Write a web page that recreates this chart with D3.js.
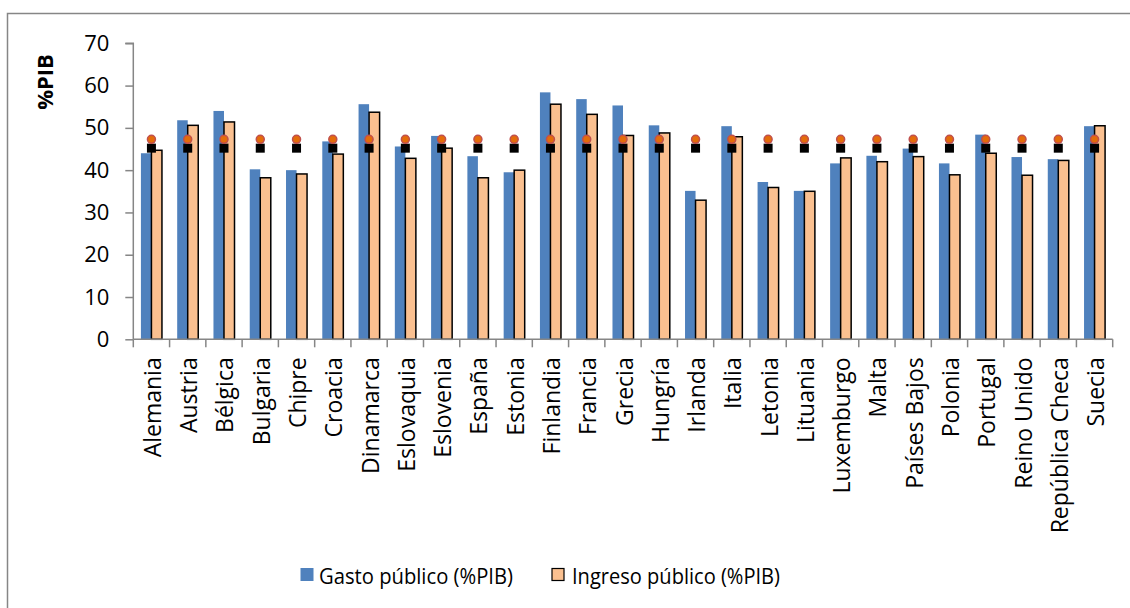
<!DOCTYPE html>
<html>
<head>
<meta charset="utf-8">
<script src="https://cdn.jsdelivr.net/npm/d3@7"></script>
<style>
  html, body { margin: 0; padding: 0; background: #fff; }
  svg { display: block; }
  text { font-family: "Open Sans", "DejaVu Sans", sans-serif; fill: #000; }
</style>
</head>
<body>
<svg id="chart" width="1130" height="608"></svg>
<script>
const categories = ["Alemania","Austria","Bélgica","Bulgaria","Chipre","Croacia","Dinamarca","Eslovaquia","Eslovenia","España","Estonia","Finlandia","Francia","Grecia","Hungría","Irlanda","Italia","Letonia","Lituania","Luxemburgo","Malta","Países Bajos","Polonia","Portugal","Reino Unido","República Checa","Suecia"];
const gasto   = [44.0,51.8,54.0,40.2,40.0,46.8,55.6,45.6,48.1,43.3,39.5,58.4,56.8,55.3,50.6,35.1,50.4,37.2,35.1,41.6,43.4,45.1,41.6,48.4,43.1,42.6,50.4];
const ingreso = [44.7,50.6,51.4,38.2,39.1,43.8,53.7,42.8,45.2,38.2,40.0,55.6,53.2,48.2,48.8,32.9,47.9,35.9,35.0,42.9,42.0,43.2,38.9,44.0,38.8,42.3,50.5];
const gastoUE   = categories.map(() => 47.3);
const ingresoUE = categories.map(() => 45.2);
const seriesNames = ["Gasto público (%PIB)", "Ingreso público (%PIB)"];
const yTicks = [0,10,20,30,40,50,60,70];

const svg = d3.select("#chart");
const pL = 133.3, pR = 1112.7, pT = 43.3, pB = 339.3;

// outer border
svg.append("rect").attr("x", 7.5).attr("y", 13.5).attr("width", 1200).attr("height", 700)
  .attr("fill", "#fff").attr("stroke", "#868686").attr("stroke-width", 1.5);

const x = d3.scaleBand().domain(categories).range([pL, pR]).padding(0);
const y = d3.scaleLinear().domain([0, 70]).range([pB, pT]);
const bw = x.bandwidth();
const xs = d3.scaleBand().domain([0, 1]).range([0.21 * bw, 0.79 * bw]).padding(0);

// bars
const g = svg.append("g");
g.selectAll(".gasto").data(categories).join("rect")
  .attr("x", d => x(d) + xs(0))
  .attr("width", xs.bandwidth())
  .attr("y", (d, i) => y(gasto[i]))
  .attr("height", (d, i) => y(0) - y(gasto[i]))
  .attr("fill", "#4F81BD");
g.selectAll(".ingreso").data(categories).join("rect")
  .attr("x", d => x(d) + xs(1))
  .attr("width", xs.bandwidth())
  .attr("y", (d, i) => y(ingreso[i]))
  .attr("height", (d, i) => y(0) - y(ingreso[i]))
  .attr("fill", "#FAC090").attr("stroke", "#000").attr("stroke-width", 1.5);

// y axis
const yAxis = d3.axisLeft(y).tickValues(yTicks).tickSize(8).tickPadding(16).tickFormat(d3.format("d"));
const ya = svg.append("g").attr("transform", `translate(${pL},0)`).call(yAxis);
ya.select(".domain").attr("stroke", "#868686").attr("stroke-width", 1.5).attr("d", `M-8,${pT}H0V${pB}`);
ya.selectAll(".tick line").attr("stroke", "#868686").attr("stroke-width", 1.5);
ya.selectAll(".tick text").attr("font-size", 22).attr("font-family", "'Open Sans', sans-serif").attr("fill", "#000");

// x axis
const xa = svg.append("g").attr("transform", `translate(0,${pB})`);
xa.append("line").attr("x1", pL).attr("x2", pR).attr("y1", 0).attr("y2", 0)
  .attr("stroke", "#868686").attr("stroke-width", 1.5);
const bounds = categories.map(c => x(c)).concat([x(categories[categories.length - 1]) + bw]);
xa.selectAll(".xt").data(bounds).join("line")
  .attr("x1", d => d).attr("x2", d => d).attr("y1", 0).attr("y2", 8)
  .attr("stroke", "#868686").attr("stroke-width", 1.5);
xa.selectAll(".xl").data(categories).join("text")
  .attr("transform", d => `translate(${x(d) + bw / 2 + 9.5},18) rotate(-90)`)
  .attr("text-anchor", "end")
  .attr("font-size", 23)
  .text(d => d);

// markers
svg.selectAll(".sq").data(categories).join("rect")
  .attr("x", d => x(d) + bw / 2 - 4.5)
  .attr("y", (d, i) => y(ingresoUE[i]) - 4.5)
  .attr("width", 9).attr("height", 9)
  .attr("fill", "#000");
svg.selectAll(".ci").data(categories).join("circle")
  .attr("cx", d => x(d) + bw / 2)
  .attr("cy", (d, i) => y(gastoUE[i]))
  .attr("r", 4)
  .attr("fill", "#E46C0A").attr("stroke", "#C0504D").attr("stroke-width", 1.5);

// y label
svg.append("text").attr("transform", "translate(53,82) rotate(-90)")
  .attr("text-anchor", "middle").attr("font-size", 22).attr("font-weight", "bold").text("%PIB");

// legend
const lg = svg.append("g");
lg.append("rect").attr("x", 300.5).attr("y", 568).attr("width", 13).attr("height", 13).attr("fill", "#4F81BD");
lg.append("text").attr("x", 319).attr("y", 584).attr("font-size", 22)
  .attr("textLength", 194).attr("lengthAdjust", "spacingAndGlyphs").text(seriesNames[0]);
lg.append("rect").attr("x", 552).attr("y", 568.5).attr("width", 12).attr("height", 12)
  .attr("fill", "#FAC090").attr("stroke", "#000").attr("stroke-width", 1.2);
lg.append("text").attr("x", 572).attr("y", 584).attr("font-size", 22)
  .attr("textLength", 208).attr("lengthAdjust", "spacingAndGlyphs").text(seriesNames[1]);
</script>
</body>
</html>
